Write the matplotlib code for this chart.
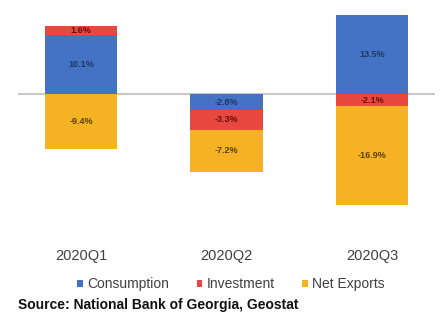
import matplotlib
matplotlib.use("Agg")
import matplotlib.pyplot as plt
from matplotlib.patches import Patch
import numpy as np

plt.rcParams['font.family'] = ['Liberation Sans', 'DejaVu Sans']

categories = ["2020Q1", "2020Q2", "2020Q3"]
consumption = [10.1, -2.8, 13.5]
investment = [1.6, -3.3, -2.1]
net_exports = [-9.4, -7.2, -16.9]
series_names = ["Consumption", "Investment", "Net Exports"]
colors = ["#4472C4", "#E8483D", "#F5B324"]
label_colors = ["#1F3864", "#6B0F0A", "#5A4000"]

W, H = 440, 321
fig = plt.figure(figsize=(W/100, H/100), dpi=100)
ax_left, ax_right = 18, 435
ax_top, ax_bot = 5, 245
ax = fig.add_axes([ax_left/W, 1-ax_bot/H, (ax_right-ax_left)/W, (ax_bot-ax_top)/H])

x = np.arange(len(categories))
pos_base = np.zeros(len(categories))
neg_base = np.zeros(len(categories))
for vals, col, lc in zip([consumption, investment, net_exports], colors, label_colors):
    vals = np.array(vals, dtype=float)
    bottoms = np.where(vals >= 0, pos_base, neg_base)
    ax.bar(x, vals, bottom=bottoms, width=0.495, color=col, edgecolor='none', zorder=2)
    for xi, v, b in zip(x, vals, bottoms):
        ax.text(xi, b + v/2, f"{v:.1f}%", ha='center', va='center', fontsize=6.5,
                fontweight='bold', color=lc, zorder=3)
    pos_base = pos_base + np.where(vals >= 0, vals, 0)
    neg_base = neg_base + np.where(vals < 0, vals, 0)

ax.axhline(0, color='#C8C8C8', lw=1.5, zorder=1)
px_per = 5.84
ax.set_ylim(-(ax_bot-94)/px_per, (94-ax_top)/px_per)
ax.set_xlim(-(81-ax_left)/145.5, (ax_right-81)/145.5)
ax.set_xticks(x)
ax.set_xticklabels(categories, fontsize=10.5, color='#404040')
ax.tick_params(axis='x', length=0, pad=3)
ax.set_yticks([])
for s in ax.spines.values():
    s.set_visible(False)

handles = [Patch(facecolor=c, edgecolor='none') for c in colors]
fig.legend(handles, series_names, loc='center', bbox_to_anchor=(231/W, 1-284/H),
           ncol=3, frameon=False, fontsize=10, handlelength=0.4, handleheight=0.4,
           handletextpad=0.3, columnspacing=2.0, labelcolor='#404040')

fig.text(18/W, 1-305/H, "Source: National Bank of Georgia, Geostat", fontsize=10,
         fontweight='bold', color='#111111', ha='left', va='center')

fig.savefig("out.png", dpi=100)
